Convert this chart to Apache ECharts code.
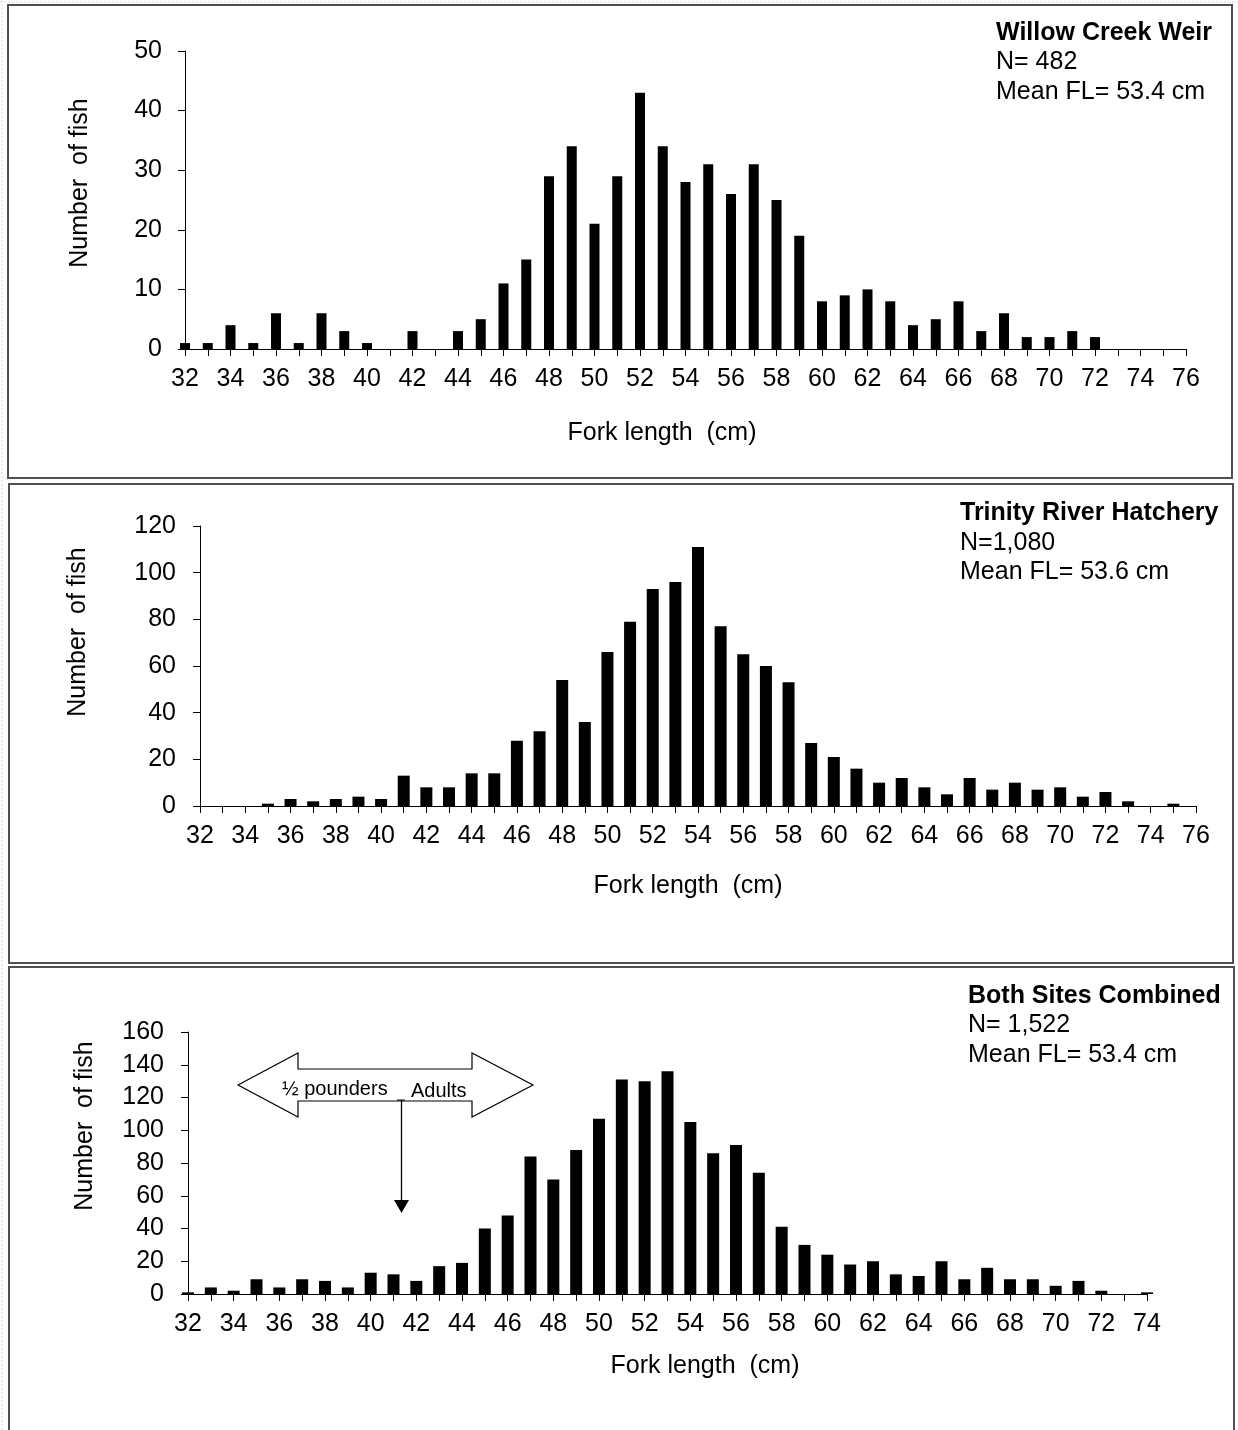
<!DOCTYPE html>
<html>
<head>
<meta charset="utf-8">
<script src="https://cdn.jsdelivr.net/npm/echarts@6/dist/echarts.min.js"></script>
<style>
  html, body { margin: 0; padding: 0; background: #fff; }
  #chart { width: 1238px; height: 1430px; }
</style>
</head>
<body>
<div id="chart"></div>
<script>
// ---- Data ----
const willowLengths = [32,33,34,35,36,37,38,39,40,41,42,43,44,45,46,47,48,49,50,51,52,53,54,55,56,57,58,59,60,61,62,63,64,65,66,67,68,69,70,71,72];
const willowCounts  = [1,1,4,1,6,1,6,3,1,0,3,0,3,5,11,15,29,34,21,29,43,34,28,31,26,31,25,19,8,9,10,8,4,5,8,3,6,2,2,3,2];

const trinityLengths = [35,36,37,38,39,40,41,42,43,44,45,46,47,48,49,50,51,52,53,54,55,56,57,58,59,60,61,62,63,64,65,66,67,68,69,70,71,72,73,74,75];
const trinityCounts  = [1,3,2,3,4,3,13,8,8,14,14,28,32,54,36,66,79,93,96,111,77,65,60,53,27,21,16,10,12,8,5,12,7,10,7,8,4,6,2,0,1];

const combinedLengths = [32,33,34,35,36,37,38,39,40,41,42,43,44,45,46,47,48,49,50,51,52,53,54,55,56,57,58,59,60,61,62,63,64,65,66,67,68,69,70,71,72,73,74];
const combinedCounts  = [1,4,2,9,4,9,8,4,13,12,8,17,19,40,48,84,70,88,107,131,130,136,105,86,91,74,41,30,24,18,20,12,11,20,9,16,9,9,5,8,2,0,1];

const panelTitles = ['Willow Creek Weir', 'Trinity River Hatchery', 'Both Sites Combined'];
const panelN      = ['N= 482', 'N=1,080', 'N= 1,522'];
const panelMean   = ['Mean FL= 53.4 cm', 'Mean FL= 53.6 cm', 'Mean FL= 53.4 cm'];
const xAxisTitle = 'Fork length  (cm)';
const yAxisTitle = 'Number  of fish';
const arrowLeftLabel = '\u00BD pounders';
const arrowRightLabel = 'Adults';

// ---- Chart ----
const FONT = 'Liberation Sans, Arial, sans-serif';
const FS = 25;
const chart = echarts.init(document.getElementById('chart'), null, { renderer: 'canvas' });

function pairs(xs, ys) { return xs.map((x, i) => [x, ys[i]]); }

function xAxisCfg(idx, max) {
  return {
    type: 'value', gridIndex: idx, min: 32, max: max, interval: 2,
    axisLine: { show: true, onZero: false, lineStyle: { color: '#000', width: 1 } },
    axisTick: { show: true, length: 7, lineStyle: { color: '#000', width: 1 } },
    minorTick: { show: true, splitNumber: 2, length: 7, lineStyle: { color: '#000', width: 1 } },
    splitLine: { show: false }, minorSplitLine: { show: false },
    axisLabel: { fontSize: FS, color: '#000', fontFamily: FONT, margin: 18 }
  };
}
function yAxisCfg(idx, max, interval, margin) {
  return {
    type: 'value', gridIndex: idx, min: 0, max: max, interval: interval,
    axisLine: { show: true, lineStyle: { color: '#000', width: 1 } },
    axisTick: { show: true, length: 7, lineStyle: { color: '#000', width: 1 } },
    splitLine: { show: false },
    axisLabel: { fontSize: FS, color: '#000', fontFamily: FONT, margin: margin }
  };
}
function barSeries(idx, xs, ys, w) {
  return {
    type: 'bar', xAxisIndex: idx, yAxisIndex: idx,
    data: pairs(xs, ys), barWidth: w, clip: true,
    itemStyle: { color: '#000' }, silent: true
  };
}
function txt(x, y, s, size, bold) {
  return {
    type: 'text', x: x, y: y, z: 10,
    style: { text: s, fill: '#000', font: (bold ? 'bold ' : '') + size + 'px ' + FONT,
             textAlign: 'left', textVerticalAlign: 'middle' }
  };
}
function ctxt(x, y, s, size, rot) {
  return {
    type: 'text', x: x, y: y, rotation: rot || 0, z: 10,
    style: { text: s, fill: '#000', font: size + 'px ' + FONT,
             textAlign: 'center', textVerticalAlign: 'middle' }
  };
}

const boxStroke = { stroke: '#505050', lineWidth: 2, fill: 'none' };

const graphics = [
  // faint outer dashed guide
  { type: 'line', shape: { x1: 2, y1: 0, x2: 2, y2: 1430 }, style: { stroke: '#d6d6d6', lineWidth: 1, lineDash: [2, 2] } },
  { type: 'line', shape: { x1: 0, y1: 2, x2: 1238, y2: 2 }, style: { stroke: '#d6d6d6', lineWidth: 1, lineDash: [2, 2] } },
  // panel boxes
  { type: 'rect', shape: { x: 8, y: 5, width: 1224, height: 473 }, style: boxStroke },
  { type: 'rect', shape: { x: 9, y: 484, width: 1224, height: 479 }, style: boxStroke },
  { type: 'polyline', shape: { points: [[9, 1432], [9, 967], [1234, 967], [1234, 1432]] }, style: boxStroke },

  // panel 1 texts
  txt(996, 33, panelTitles[0], FS, true),
  txt(996, 62, panelN[0], FS, false),
  txt(996, 92, panelMean[0], FS, false),
  ctxt(662, 433, xAxisTitle, FS),
  ctxt(80, 183, yAxisTitle, FS, Math.PI / 2),

  // panel 2 texts
  txt(960, 513, panelTitles[1], FS, true),
  txt(960, 543, panelN[1], FS, false),
  txt(960, 572, panelMean[1], FS, false),
  ctxt(688, 886, xAxisTitle, FS),
  ctxt(78, 632, yAxisTitle, FS, Math.PI / 2),

  // panel 3 texts
  txt(968, 996, panelTitles[2], FS, true),
  txt(968, 1025, panelN[2], FS, false),
  txt(968, 1055, panelMean[2], FS, false),
  ctxt(705, 1366, xAxisTitle, FS),
  ctxt(85, 1126, yAxisTitle, FS, Math.PI / 2),

  // double-headed block arrow annotation
  { type: 'polygon', z: 5,
    shape: { points: [[238, 1085], [298, 1053], [298, 1069], [472, 1069], [472, 1053], [533, 1085],
                      [472, 1117], [472, 1101], [298, 1101], [298, 1117]] },
    style: { fill: '#fff', stroke: '#000', lineWidth: 1.2 } },
  txt(282, 1089, arrowLeftLabel, 20, false),
  txt(411, 1091, arrowRightLabel, 20, false),
  { type: 'line', z: 6, shape: { x1: 397, y1: 1100, x2: 405, y2: 1100 }, style: { stroke: '#000', lineWidth: 1 } },
  { type: 'line', z: 6, shape: { x1: 401.5, y1: 1100, x2: 401.5, y2: 1201 }, style: { stroke: '#000', lineWidth: 1.3 } },
  { type: 'polygon', z: 6, shape: { points: [[394, 1200], [409, 1200], [401.5, 1213]] }, style: { fill: '#000' } }
];

const option = {
  animation: false,
  backgroundColor: '#fff',
  grid: [
    { left: 185, top: 51, width: 1001, height: 298, containLabel: false },
    { left: 200, top: 526, width: 996, height: 280, containLabel: false },
    { left: 188, top: 1032, width: 959, height: 262, containLabel: false }
  ],
  xAxis: [ xAxisCfg(0, 76), xAxisCfg(1, 76), xAxisCfg(2, 74) ],
  yAxis: [ yAxisCfg(0, 50, 10, 23), yAxisCfg(1, 120, 20, 24), yAxisCfg(2, 160, 20, 24) ],
  series: [
    barSeries(0, willowLengths, willowCounts, 10),
    barSeries(1, trinityLengths, trinityCounts, 12),
    barSeries(2, combinedLengths, combinedCounts, 12)
  ],
  graphic: graphics
};
chart.setOption(option);
</script>
</body>
</html>
